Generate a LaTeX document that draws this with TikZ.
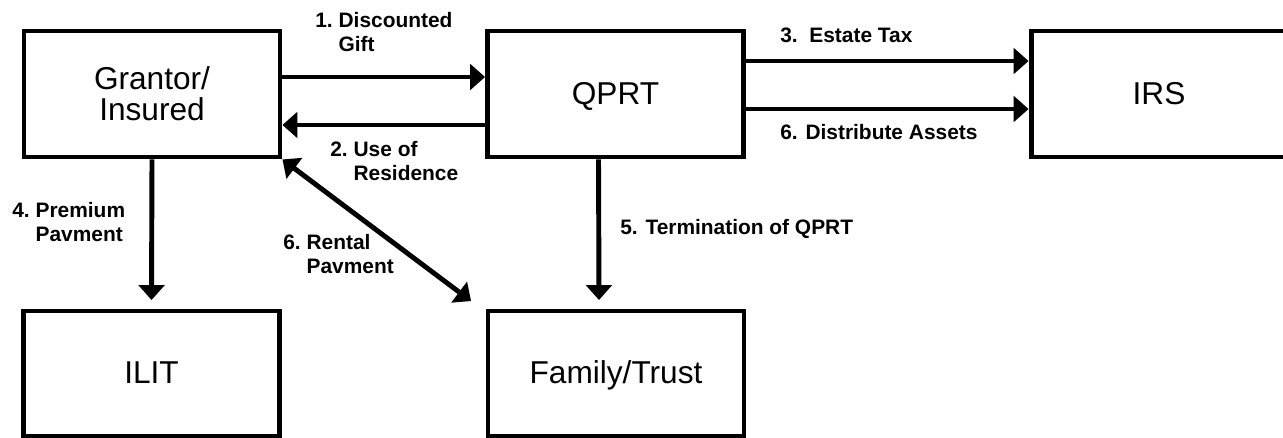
\documentclass[tikz,border=0pt]{standalone}
\usepackage{fontspec}
\setmainfont{Liberation Sans}
\usetikzlibrary{arrows.meta,positioning}

\begin{document}
\begin{tikzpicture}[x=0.02cm,y=-0.02cm,
  box/.style={draw,line width=2.8pt,minimum width=5.12cm,minimum height=2.52cm,
    align=center,inner sep=0pt,font=\fontsize{18}{17.6}\selectfont},
  onebox/.style={box,text height=12.9pt,text depth=1.5pt},
  flow/.style={line width=2.8pt,-{Triangle[length=8.5pt,width=14.5pt]}},
  twoway/.style={line width=2.8pt,{Triangle[length=8.5pt,width=14.5pt]}-{Triangle[length=8.5pt,width=14.5pt]}},
  lbl/.style={anchor=base west,inner sep=0pt,font=\bfseries\fontsize{11.9}{13.6}\selectfont}]
\useasboundingbox (0,0) rectangle (1283,438);
% Boxes
\node[box] (grantor) at (152,94) {Grantor/\\Insured};
\node[onebox] (qprt) at (615.5,94) {QPRT};
\node[onebox] (irs) at (1159,94) {IRS};
\node[onebox,minimum height=2.5cm] (ilit) at (151.5,373.5) {ILIT};
\node[onebox,minimum height=2.5cm] (family) at (616,373.5) {Family/Trust};
% Arrows
\draw[flow] ([yshift=0.34cm]grantor.east) -- ([yshift=0.34cm]qprt.west);
\draw[flow] ([yshift=-0.62cm]qprt.west) -- ([yshift=-0.62cm]grantor.east);
\draw[flow] ([yshift=0.66cm]qprt.east) -- ([yshift=0.66cm]irs.west);
\draw[flow] ([yshift=-0.30cm]qprt.east) -- ([yshift=-0.30cm]irs.west);
\draw[flow] (grantor.south) -- ([yshift=0.17cm]ilit.north);
\draw[flow] ([xshift=-0.34cm]qprt.south) -- ([xshift=-0.34cm,yshift=0.17cm]family.north);
\draw[twoway] (grantor.south east) -- ([xshift=-0.29cm,yshift=0.15cm]family.north west);
% Labels
\node[lbl] (gift) at (315,28) {\begin{tabular}[t]{@{}l@{}l@{}}1.\kern0.28em&Discounted\\&Gift\end{tabular}};
\node[lbl] (use) at (330,157) {\begin{tabular}[t]{@{}l@{}l@{}}2.\kern0.28em&Use of\\&Residence\end{tabular}};
\node[lbl] (tax) at (780,43) {3.\ \ Estate Tax};
\node[lbl] (assets) at (780,140) {6. Distribute Assets};
\node[lbl] (premium) at (12,218) {\begin{tabular}[t]{@{}l@{}l@{}}4.\kern0.28em&Premium\\&Pavment\end{tabular}};
\node[lbl] (rental) at (283,250) {\begin{tabular}[t]{@{}l@{}l@{}}6.\kern0.28em&Rental\\&Pavment\end{tabular}};
\node[lbl] (term) at (620,235) {5. Termination of QPRT};
\end{tikzpicture}
\end{document}
